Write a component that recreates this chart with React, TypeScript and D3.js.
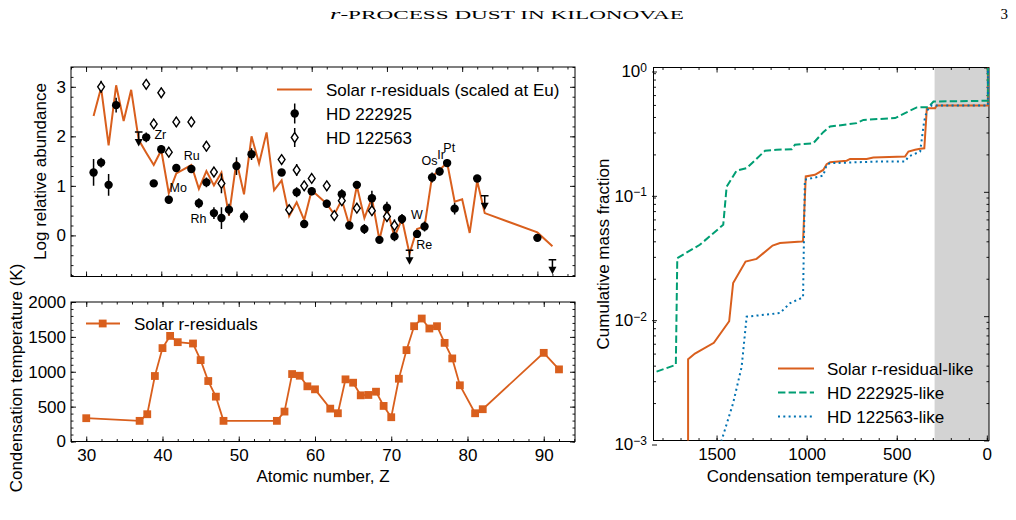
import * as d3 from "d3";
import { useRef, useEffect } from "react";

const FONT = "'Liberation Sans', Arial, Helvetica, sans-serif";
const SERIF = "'Liberation Serif', 'DejaVu Serif', serif";
const FS = 17;
const ORANGE = "#d95f1d";
const GREEN = "#009e73";
const BLUE = "#0072b2";

// Solar r-process residuals, log relative abundance scaled at Eu
const solarZ = [31, 32, 33, 34, 35, 36, 37, 38, 39, 40, 41, 42, 44, 45, 46, 47, 48, 49, 50, 51, 52, 53, 54, 55, 56, 57, 58, 59, 60, 62, 63, 64, 65, 66, 67, 68, 69, 70, 71, 72, 73, 74, 75, 76, 77, 78, 79, 80, 81, 82, 83, 90, 92];
const solarAbund = [2.41, 2.98, 1.82, 3.03, 2.31, 2.94, 1.93, 1.67, 1.42, 1.72, 0.85, 1.25, 1.42, 0.94, 1.30, 1.01, 1.27, 0.40, 1.50, 0.83, 2.00, 1.45, 2.08, 0.91, 1.11, 0.39, 0.67, 0.31, 0.91, 0.64, 0.42, 0.72, 0.20, 1.00, 0.35, 0.75, -0.09, 0.55, -0.03, 0.33, -0.37, 0.13, 0.18, 1.19, 1.32, 1.47, 0.68, 0.73, 0.05, 1.10, 0.45, 0.06, -0.22];

// HD 222925 detections
const hdAZ = [31, 32, 33, 34, 38, 39, 40, 41, 42, 44, 45, 46, 47, 48, 49, 50, 51, 52, 56, 58, 59, 60, 62, 64, 65, 66, 67, 68, 69, 70, 71, 72, 74, 75, 76, 77, 78, 79, 82, 90];
const hdAAbund = [1.27, 1.47, 1.02, 2.63, 1.98, 1.05, 1.74, 0.72, 1.36, 1.34, 0.65, 1.07, 0.45, 0.35, 0.52, 1.40, 0.38, 1.64, 1.27, 0.87, 0.23, 0.89, 0.64, 0.83, 0.20, 1.02, 0.13, 0.75, -0.09, 0.56, -0.02, 0.33, 0.03, 0.18, 1.17, 1.29, 1.46, 0.54, 1.15, -0.05];
const hdAErr = [0.27, 0.10, 0.22, 0.15, 0.10, 0.06, 0.08, 0.08, 0.06, 0.06, 0.10, 0.10, 0.12, 0.22, 0.12, 0.18, 0.12, 0.12, 0.05, 0.10, 0.08, 0.08, 0.08, 0.10, 0.08, 0.06, 0.10, 0.15, 0.05, 0.12, 0.10, 0.10, 0.05, 0.10, 0.10, 0.08, 0.08, 0.12, 0.07, 0.07];
// HD 222925 upper limits
const hdALimZ = [37, 73, 83, 92];
const hdALimAbund = [2.09, -0.30, 0.80, -0.49];

// HD 122563
const hdBZ = [32, 38, 39, 40, 41, 42, 44, 46, 47, 48, 56, 57, 58, 59, 60, 62, 63, 64, 66, 68, 70, 71];
const hdBAbund = [3.00, 3.05, 2.25, 2.88, 1.68, 2.29, 2.29, 1.80, 1.28, 1.05, 1.53, 0.52, 1.32, 1.00, 1.15, 1.00, 0.40, 0.70, 0.55, 0.50, 0.38, 0.20];
const hdBErr = [0.12, 0.08, 0.10, 0.10, 0.10, 0.10, 0.10, 0.10, 0.10, 0.20, 0.08, 0.08, 0.12, 0.10, 0.08, 0.10, 0.08, 0.10, 0.08, 0.10, 0.10, 0.12];

// element annotations (data coordinates)
const elemNames = ["Zr", "Mo", "Ru", "Rh", "Os", "Ir", "Pt", "W", "Re"];
const elemLabelZ = [39.1, 41.1, 43.0, 43.9, 74.6, 76.7, 77.5, 73.2, 73.9];
const elemLabelY = [2.03, 0.97, 1.62, 0.34, 1.52, 1.64, 1.78, 0.42, -0.19];

// condensation temperatures of the solar r-residual elements
const tcZ = [30, 37, 38, 39, 40, 41, 42, 44, 45, 46, 47, 48, 55, 56, 57, 58, 59, 60, 62, 63, 64, 65, 66, 67, 68, 69, 70, 71, 72, 73, 74, 75, 76, 77, 78, 79, 81, 82, 90, 92];
const tcK = [334, 296, 391, 939, 1339, 1514, 1424, 1405, 1167, 867, 643, 296, 296, 429, 967, 943, 791, 748, 471, 405, 891, 843, 662, 667, 714, 510, 348, 900, 1310, 1653, 1763, 1620, 1653, 1414, 1191, 806, 405, 463, 1271, 1034];

// cumulative condensed mass fraction vs temperature
const cumSolarT = [1658, 1658, 1620, 1515, 1430, 1408, 1339, 1278, 1189, 1148, 1028, 1020, 1005, 954, 908, 889, 870, 778, 759, 667, 630, 454, 435, 398, 370, 347, 333, 287, 278, -6, -6];
const cumSolarF = [0.0002, 0.0045, 0.0050, 0.0061, 0.0091, 0.0185, 0.0275, 0.0289, 0.037, 0.0387, 0.0398, 0.040, 0.133, 0.137, 0.150, 0.167, 0.173, 0.178, 0.184, 0.184, 0.189, 0.192, 0.211, 0.218, 0.222, 0.224, 0.471, 0.471, 0.494, 0.494, 1.0];
const cumHdAT = [1833, 1726, 1718, 1593, 1463, 1444, 1389, 1333, 1231, 1167, 1083, 1065, 963, 908, 870, 722, 685, 509, 454, 389, 324, 296, -6, -6];
const cumHdAF = [0.00358, 0.00406, 0.0293, 0.0375, 0.0543, 0.110, 0.148, 0.155, 0.214, 0.218, 0.220, 0.239, 0.246, 0.302, 0.335, 0.357, 0.379, 0.392, 0.43, 0.477, 0.48, 0.533, 0.54, 1.0];
const cumHdBT = [1500, 1408, 1361, 1333, 1148, 1093, 1028, 1020, 1010, 908, 889, 870, 611, 454, 435, 370, 348, 333, 306, -6, -6];
const cumHdBF = [0.00074, 0.0020, 0.0039, 0.0099, 0.0106, 0.0127, 0.0140, 0.0142, 0.125, 0.135, 0.165, 0.170, 0.175, 0.175, 0.192, 0.211, 0.368, 0.449, 0.495, 0.495, 1.0];
const shadeTmax = 290;

const MAJOR = 5;
const MINOR = 2.5;

// ticks on all four sides, pointing inward
function drawFrame(g: any, x: any, y: any, spec: any) {
    const [x0, x1] = x.range();
    const [y1, y0] = y.range();
    const blank = () => "";
    const put = (axis: any, tx: number, ty: number) => {
        const a = g.append("g").attr("transform", `translate(${tx},${ty})`).call(axis);
        a.select(".domain").remove();
        a.attr("font-family", FONT).attr("font-size", FS).attr("color", "#000");
        a.selectAll("line").attr("stroke-width", 0.9);
        return a;
    };
    put(d3.axisBottom(x).tickValues(spec.xMinor).tickSize(-MINOR).tickFormat(blank), 0, y1);
    put(d3.axisTop(x).tickValues(spec.xMinor).tickSize(-MINOR).tickFormat(blank), 0, y0);
    put(d3.axisLeft(y).tickValues(spec.yMinor).tickSize(-MINOR).tickFormat(blank), x0, 0);
    put(d3.axisRight(y).tickValues(spec.yMinor).tickSize(-MINOR).tickFormat(blank), x1, 0);

    put(d3.axisBottom(x).tickValues(spec.xMajor).tickSize(-MAJOR).tickPadding(7)
        .tickFormat(spec.xFormat || blank), 0, y1);
    put(d3.axisTop(x).tickValues(spec.xMajor).tickSize(-MAJOR).tickFormat(blank), 0, y0);
    const yl = put(d3.axisLeft(y).tickValues(spec.yMajor).tickSize(-MAJOR).tickPadding(5)
        .tickFormat(spec.yFormat || blank), x0, 0);
    put(d3.axisRight(y).tickValues(spec.yMajor).tickSize(-MAJOR).tickFormat(blank), x1, 0);

    g.append("rect")
        .attr("x", x0).attr("y", y0)
        .attr("width", x1 - x0).attr("height", y1 - y0)
        .attr("fill", "none").attr("stroke", "#000").attr("stroke-width", 1);
    return yl;
}

function clip(svg: any, id: string, x: any, y: any) {
    const [x0, x1] = x.range();
    const [y1, y0] = y.range();
    svg.append("defs").append("clipPath").attr("id", id)
        .append("rect").attr("x", x0).attr("y", y0).attr("width", x1 - x0).attr("height", y1 - y0);
}

const diamond = "M0,-4.9 L3.4,0 L0,4.9 L-3.4,0 Z";

function upperLimit(g: any, cx: number, cy: number) {
    const u = g.append("g").attr("transform", `translate(${cx},${cy})`);
    u.append("line").attr("x1", -3.8).attr("x2", 3.8).attr("stroke", "#000").attr("stroke-width", 1.5);
    u.append("line").attr("y1", 0).attr("y2", 8).attr("stroke", "#000").attr("stroke-width", 1.5);
    u.append("path").attr("d", "M-4,7 L4,7 L0,14.5 Z").attr("fill", "#000");
}

export default function App() {
    const ref = useRef<SVGSVGElement>(null);

    useEffect(() => {
        const svg = d3.select(ref.current);
        svg.selectAll("*").remove();
        svg.attr("font-family", FONT);

        // page header
        const head = svg.append("text")
            .attr("x", 330).attr("y", 19)
            .attr("font-family", SERIF).attr("font-size", 13)
            .attr("textLength", 354).attr("lengthAdjust", "spacingAndGlyphs");
        head.append("tspan").attr("font-style", "italic").attr("font-size", 15).text("r");
        head.append("tspan").text("-PROCESS DUST IN KILONOVAE");
        svg.append("text").attr("x", 1008).attr("y", 19).attr("text-anchor", "end")
            .attr("font-family", SERIF).attr("font-size", 15).text("3");

        // ---------- abundance pattern ----------
        const xA = d3.scaleLinear().domain([28, 95]).range([71, 575]);
        const yA = d3.scaleLinear().domain([-0.83, 3.4]).range([276.5, 67]);
        clip(svg, "clipA", xA, yA);
        const gA = svg.append("g");
        drawFrame(gA, xA, yA, {
            xMajor: d3.range(30, 91, 10), xMinor: d3.range(28, 95, 2),
            yMajor: [0, 1, 2, 3], yMinor: d3.range(-0.8, 3.41, 0.2),
            yFormat: d3.format("d"),
        });
        const pA = gA.append("g").attr("clip-path", "url(#clipA)");

        pA.append("path")
            .attr("d", d3.line<number>().x((_, i) => xA(solarZ[i])).y(d => yA(d))(solarAbund))
            .attr("fill", "none").attr("stroke", ORANGE).attr("stroke-width", 2)
            .attr("stroke-linejoin", "miter");

        const ptsA = pA.append("g");
        hdAZ.forEach((z, i) => {
            ptsA.append("line")
                .attr("x1", xA(z)).attr("x2", xA(z))
                .attr("y1", yA(hdAAbund[i] - hdAErr[i])).attr("y2", yA(hdAAbund[i] + hdAErr[i]))
                .attr("stroke", "#000").attr("stroke-width", 1.5);
            ptsA.append("circle").attr("cx", xA(z)).attr("cy", yA(hdAAbund[i])).attr("r", 4.2).attr("fill", "#000");
        });
        const ptsB = pA.append("g");
        hdBZ.forEach((z, i) => {
            ptsB.append("line")
                .attr("x1", xA(z)).attr("x2", xA(z))
                .attr("y1", yA(hdBAbund[i] - hdBErr[i])).attr("y2", yA(hdBAbund[i] + hdBErr[i]))
                .attr("stroke", "#000").attr("stroke-width", 1.5);
            ptsB.append("path").attr("d", diamond)
                .attr("transform", `translate(${xA(z)},${yA(hdBAbund[i])})`)
                .attr("fill", "#fff").attr("stroke", "#000").attr("stroke-width", 1.4);
        });
        hdALimZ.forEach((z, i) => upperLimit(pA, xA(z), yA(hdALimAbund[i])));

        elemNames.forEach((n, i) => {
            gA.append("text").attr("x", xA(elemLabelZ[i])).attr("y", yA(elemLabelY[i]))
                .attr("dy", "0.36em").attr("font-size", 12.5).text(n);
        });

        // legend
        const lgA = gA.append("g").attr("font-size", FS);
        lgA.append("line").attr("x1", 277).attr("x2", 312).attr("y1", 89.5).attr("y2", 89.5)
            .attr("stroke", ORANGE).attr("stroke-width", 2);
        lgA.append("line").attr("x1", 294.7).attr("x2", 294.7).attr("y1", 103.5).attr("y2", 123.5)
            .attr("stroke", "#000").attr("stroke-width", 1.5);
        lgA.append("circle").attr("cx", 294.7).attr("cy", 113.5).attr("r", 4.2).attr("fill", "#000");
        lgA.append("line").attr("x1", 294.7).attr("x2", 294.7).attr("y1", 128).attr("y2", 147)
            .attr("stroke", "#000").attr("stroke-width", 1.5);
        lgA.append("path").attr("d", diamond).attr("transform", "translate(294.7,137.5)")
            .attr("fill", "#fff").attr("stroke", "#000").attr("stroke-width", 1.4);
        ["Solar r-residuals (scaled at Eu)", "HD 222925", "HD 122563"].forEach((t, i) => {
            lgA.append("text").attr("x", 326).attr("y", 89.5 + i * 24).attr("dy", "0.36em").text(t);
        });

        svg.append("text").attr("transform", "translate(46,171.5) rotate(-90)")
            .attr("text-anchor", "middle").attr("font-size", FS).text("Log relative abundance");

        // ---------- condensation temperature ----------
        const xT = d3.scaleLinear().domain([28, 94.1]).range([71, 575]);
        const yT = d3.scaleLinear().domain([0, 2000]).range([441.5, 302]);
        const gT = svg.append("g");
        drawFrame(gT, xT, yT, {
            xMajor: d3.range(30, 91, 10), xMinor: d3.range(28, 95, 2),
            yMajor: d3.range(0, 2001, 500), yMinor: d3.range(0, 2001, 100),
            xFormat: d3.format("d"), yFormat: d3.format("d"),
        });
        gT.append("path")
            .attr("d", d3.line<number>().x((_, i) => xT(tcZ[i])).y(d => yT(d))(tcK))
            .attr("fill", "none").attr("stroke", ORANGE).attr("stroke-width", 1.8);
        tcZ.forEach((z, i) => {
            gT.append("rect").attr("x", xT(z) - 3.9).attr("y", yT(tcK[i]) - 3.9)
                .attr("width", 7.8).attr("height", 7.8).attr("fill", ORANGE);
        });
        gT.append("line").attr("x1", 86).attr("x2", 120).attr("y1", 323.5).attr("y2", 323.5)
            .attr("stroke", ORANGE).attr("stroke-width", 1.8);
        gT.append("rect").attr("x", 102.7 - 3.9).attr("y", 323.5 - 3.9).attr("width", 7.8).attr("height", 7.8)
            .attr("fill", ORANGE);
        gT.append("text").attr("x", 134).attr("y", 323.5).attr("dy", "0.36em").attr("font-size", FS)
            .text("Solar r-residuals");

        svg.append("text").attr("transform", "translate(22,378) rotate(-90)")
            .attr("text-anchor", "middle").attr("font-size", FS).text("Condensation temperature (K)");
        svg.append("text").attr("x", 323).attr("y", 482).attr("text-anchor", "middle")
            .attr("font-size", FS).text("Atomic number, Z");

        // ---------- cumulative mass fraction ----------
        const xC = d3.scaleLinear().domain([1850, -12]).range([653.5, 989]);
        const yC = d3.scaleLog().domain([1e-3, 1]).range([440.5, 67.5]);
        clip(svg, "clipC", xC, yC);
        const gC = svg.append("g");
        gC.append("rect")
            .attr("x", xC(shadeTmax)).attr("y", 67.5)
            .attr("width", 989 - xC(shadeTmax)).attr("height", 440.5 - 67.5)
            .attr("fill", "#d3d3d3");

        const logMinor: number[] = [];
        [1e-3, 1e-2, 1e-1].forEach(b => d3.range(2, 10).forEach(m => logMinor.push(b * m)));
        const yl = drawFrame(gC, xC, yC, {
            xMajor: [1500, 1000, 500, 0], xMinor: d3.range(1800, -1, -100),
            yMajor: [1e-3, 1e-2, 1e-1, 1], yMinor: logMinor,
            xFormat: d3.format("d"), yFormat: (d: number) => String(Math.round(Math.log10(d))),
        });
        // 10^n labels
        yl.selectAll("text").each(function (this: any) {
            const t = d3.select(this);
            const p = t.text();
            t.text("");
            t.append("tspan").text("10");
            t.append("tspan").attr("dy", "-0.45em").attr("font-size", 12)
                .text(p.replace("-", "\u2212"));
        });
        yl.attr("transform", "translate(652,4)");

        const pC = gC.append("g").attr("clip-path", "url(#clipC)");
        const cumLine = (T: number[]) => d3.line<number>().x((_, i) => xC(T[i])).y(d => yC(d));
        pC.append("path").attr("d", cumLine(cumSolarT)(cumSolarF))
            .attr("fill", "none").attr("stroke", ORANGE).attr("stroke-width", 2);
        pC.append("path").attr("d", cumLine(cumHdAT)(cumHdAF))
            .attr("fill", "none").attr("stroke", GREEN).attr("stroke-width", 2)
            .attr("stroke-dasharray", "7.4,3.2");
        pC.append("path").attr("d", cumLine(cumHdBT)(cumHdBF))
            .attr("fill", "none").attr("stroke", BLUE).attr("stroke-width", 2)
            .attr("stroke-dasharray", "2,3.3");

        const lgC = gC.append("g").attr("font-size", FS);
        const lgStyles = [
            { c: ORANGE, dash: null, t: "Solar r-residual-like" },
            { c: GREEN, dash: "7.4,3.2", t: "HD 222925-like" },
            { c: BLUE, dash: "2,3.3", t: "HD 122563-like" },
        ];
        lgStyles.forEach((s, i) => {
            const yy = 368.5 + i * 24;
            lgC.append("line").attr("x1", 778).attr("x2", 814).attr("y1", yy).attr("y2", yy)
                .attr("stroke", s.c).attr("stroke-width", 2).attr("stroke-dasharray", s.dash);
            lgC.append("text").attr("x", 827).attr("y", yy).attr("dy", "0.36em").text(s.t);
        });

        svg.append("text").attr("transform", "translate(609,254) rotate(-90)")
            .attr("text-anchor", "middle").attr("font-size", FS).text("Cumulative mass fraction");
        svg.append("text").attr("x", 821).attr("y", 482).attr("text-anchor", "middle")
            .attr("font-size", FS).text("Condensation temperature (K)");
    }, []);

    return (
        <svg ref={ref} width={1016} height={520}
            style={{ position: "absolute", left: 0, top: 0, background: "#fff" }} />
    );
}
